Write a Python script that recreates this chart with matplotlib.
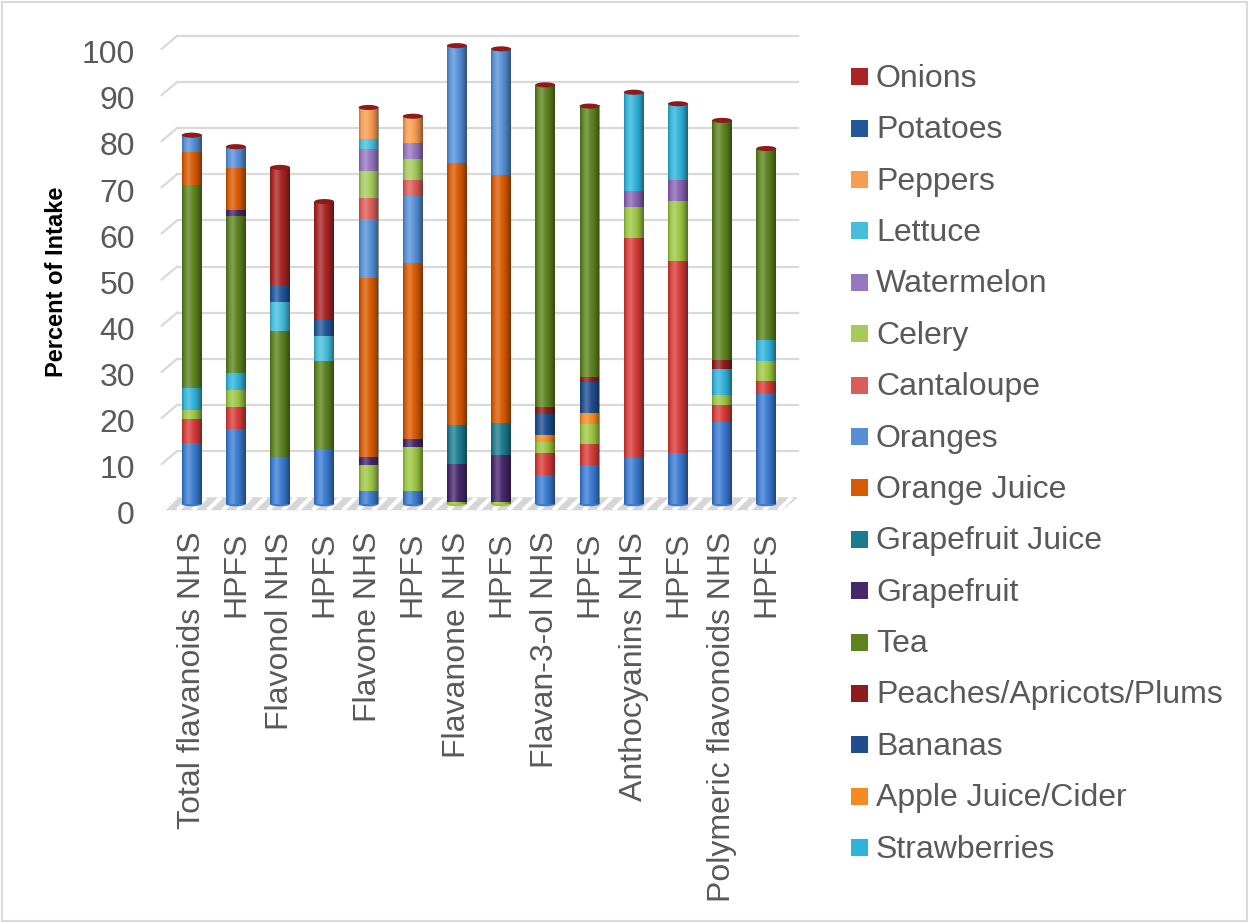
import numpy as np
import matplotlib
matplotlib.use("Agg")
import matplotlib.pyplot as plt
from matplotlib.patches import Rectangle, Ellipse, Polygon
from matplotlib.lines import Line2D

plt.rcParams['font.family'] = ['Liberation Sans', 'DejaVu Sans']

# ---------------- data ----------------
categories = ["Total flavanoids NHS", "HPFS", "Flavonol NHS", "HPFS",
              "Flavone NHS", "HPFS", "Flavanone NHS", "HPFS",
              "Flavan-3-ol NHS", "HPFS", "Anthocyanins NHS", "HPFS",
              "Polymeric flavonoids NHS", "HPFS"]

# percent of intake contributed by each food (stacked bottom -> top)
apples          = [13.2, 16.4, 10.3, 11.9, 2.8, 2.8, 0.0, 0.0, 6.4, 8.6, 10.1, 11.0, 17.8, 23.8]
blueberries     = [5.2, 4.7, 0.0, 0.0, 0.0, 0.0, 0.0, 0.0, 4.6, 4.4, 47.6, 41.7, 3.8, 3.0]
red_wine        = [2.1, 3.7, 0.0, 0.0, 5.7, 9.5, 0.5, 0.5, 2.5, 4.3, 6.7, 13.1, 2.0, 4.2]
other_fruit     = [0.0, 0.0, 0.0, 0.0, 0.0, 0.0, 0.0, 0.0, 0.0, 0.0, 3.6, 4.5, 0.0, 0.0]
strawberries    = [4.7, 3.6, 0.0, 0.0, 0.0, 0.0, 0.0, 0.0, 0.0, 0.0, 21.3, 16.5, 5.7, 4.5]
apple_juice     = [0.0, 0.0, 0.0, 0.0, 0.0, 0.0, 0.0, 0.0, 1.5, 2.5, 0.0, 0.0, 0.0, 0.0]
bananas         = [0.0, 0.0, 0.0, 0.0, 0.0, 0.0, 0.0, 0.0, 4.6, 6.7, 0.0, 0.0, 0.0, 0.0]
peaches         = [0.0, 0.0, 0.0, 0.0, 0.0, 0.0, 0.0, 0.0, 1.5, 1.0, 0.0, 0.0, 2.0, 0.0]
tea             = [43.9, 34.0, 27.3, 19.2, 0.0, 0.0, 0.0, 0.0, 69.8, 58.8, 0.0, 0.0, 51.9, 41.6]
grapefruit      = [0.0, 1.4, 0.0, 0.0, 1.8, 1.9, 8.2, 10.1, 0.0, 0.0, 0.0, 0.0, 0.0, 0.0]
grapefruit_juice = [0.0, 0.0, 0.0, 0.0, 0.0, 0.0, 8.4, 7.0, 0.0, 0.0, 0.0, 0.0, 0.0, 0.0]
orange_juice    = [7.3, 9.0, 0.0, 0.0, 38.7, 38.1, 56.8, 53.8, 0.0, 0.0, 0.0, 0.0, 0.0, 0.0]
oranges         = [3.6, 4.7, 0.0, 0.0, 12.9, 14.6, 25.5, 27.3, 0.0, 0.0, 0.0, 0.0, 0.0, 0.0]
cantaloupe      = [0.0, 0.0, 0.0, 0.0, 4.4, 3.4, 0.0, 0.0, 0.0, 0.0, 0.0, 0.0, 0.0, 0.0]
celery          = [0.0, 0.0, 0.0, 0.0, 6.0, 4.5, 0.0, 0.0, 0.0, 0.0, 0.0, 0.0, 0.0, 0.0]
watermelon      = [0.0, 0.0, 0.0, 0.0, 4.7, 3.4, 0.0, 0.0, 0.0, 0.0, 0.0, 0.0, 0.0, 0.0]
lettuce         = [0.0, 0.0, 6.3, 5.4, 2.1, 0.0, 0.0, 0.0, 0.0, 0.0, 0.0, 0.0, 0.0, 0.0]
peppers         = [0.0, 0.0, 0.0, 0.0, 6.9, 5.9, 0.0, 0.0, 0.0, 0.0, 0.0, 0.0, 0.0, 0.0]
potatoes        = [0.0, 0.0, 3.6, 3.4, 0.0, 0.0, 0.0, 0.0, 0.0, 0.0, 0.0, 0.0, 0.0, 0.0]
onions          = [0.0, 0.0, 25.5, 25.7, 0.0, 0.0, 0.0, 0.0, 0.0, 0.0, 0.0, 0.0, 0.0, 0.0]

# (name, values, colour, listed in legend)
series = [
    ("Apples", apples, "#3A7BD0", False),
    ("Blueberries", blueberries, "#D63C38", False),
    ("Red Wine", red_wine, "#9CC644", False),
    ("Other Fruit", other_fruit, "#8A63B3", False),
    ("Strawberries", strawberries, "#30B3D9", True),
    ("Apple Juice/Cider", apple_juice, "#F58A22", True),
    ("Bananas", bananas, "#1F4E8E", True),
    ("Peaches/Apricots/Plums", peaches, "#8F1C1C", True),
    ("Tea", tea, "#5C8320", True),
    ("Grapefruit", grapefruit, "#46286C", True),
    ("Grapefruit Juice", grapefruit_juice, "#1C7C8F", True),
    ("Orange Juice", orange_juice, "#D85A02", True),
    ("Oranges", oranges, "#568FD6", True),
    ("Cantaloupe", cantaloupe, "#DA5D59", True),
    ("Celery", celery, "#A6CA5C", True),
    ("Watermelon", watermelon, "#9576C0", True),
    ("Lettuce", lettuce, "#46BEDB", True),
    ("Peppers", peppers, "#F79C50", True),
    ("Potatoes", potatoes, "#22579C", True),
    ("Onions", onions, "#AA2424", True),
]

y_ticks = list(range(0, 101, 10))
y_label = "Percent of Intake"

# ---------------- layout ----------------
W, H = 1249, 923
fig = plt.figure(figsize=(W / 100, H / 100), dpi=100)
fig.patch.set_facecolor("white")


def fx(px):
    return px / W


def fy(py):
    return 1 - py / H


ax_l, ax_r, ax_t, ax_b = 150, 820, 20, 513
ax = fig.add_axes([fx(ax_l), fy(ax_b), (ax_r - ax_l) / W, (ax_b - ax_t) / H])
x0_px, dx_px = 191.7, 44.2
zero_px, unit_px = 507.0, 4.64
xlim = ((ax_l - x0_px) / dx_px, (ax_r - x0_px) / dx_px)
ylim = ((zero_px - ax_b) / unit_px, (zero_px - ax_t) / unit_px)

text_col = "#595959"
grid_col = "#D9D9D9"
back_off, front_off = 1.5, -1.3          # depth of the back wall / front edge
back_x = (-0.333, 13.72)
front_x = (-0.679, 13.36)
bar_w = 0.45

# floor of the 3-D box, grey with white diagonal stripes
floor = [(back_x[0], back_off), (back_x[1], back_off),
         (front_x[1], front_off), (front_x[0], front_off)]
floor_patch = Polygon(floor, closed=True, facecolor="#D6D6D6", edgecolor="none",
                      zorder=1, clip_on=False)
ax.add_patch(floor_patch)
stripe_step = 0.34
stripe_lean = 0.30
for xs in np.arange(front_x[0] - 1.0, back_x[1] + 0.5, stripe_step):
    ln = Line2D([xs, xs + stripe_lean], [front_off, back_off], color="white",
                lw=3.0, zorder=1.1, solid_capstyle="butt")
    ax.add_line(ln)
    ln.set_clip_path(floor_patch)

# back-wall gridlines with their short receding segment on the left
for g in y_ticks[1:]:
    ax.add_line(Line2D([back_x[0], back_x[1]], [g + back_off, g + back_off],
                       color=grid_col, lw=1.6, zorder=0.5, clip_on=False))
    ax.add_line(Line2D([front_x[0], back_x[0]], [g + front_off, g + back_off],
                       color=grid_col, lw=1.6, zorder=0.5, clip_on=False))

# stacked columns
x = np.arange(len(categories))
bottom = np.zeros(len(categories))
first_col = [None] * len(categories)
for name, vals, col, _ in series:
    v = np.array(vals, dtype=float)
    ax.bar(x, v, bottom=bottom, width=bar_w, color=col, linewidth=0, zorder=3)
    for i in range(len(x)):
        if v[i] > 0 and first_col[i] is None:
            first_col[i] = col
    bottom += v
totals = bottom

# cylinder shading across each column
t = np.linspace(0, 1, 80)
light = 0.22 * np.exp(-((t - 0.33) / 0.16) ** 2)
dark = 0.45 * np.clip((t - 0.55) / 0.45, 0, 1) ** 1.5 + 0.22 * np.clip((0.12 - t) / 0.12, 0, 1)
shade = np.zeros((1, t.size, 4))
use_light = light > dark
shade[0, :, :3] = np.where(use_light, 1.0, 0.0)[:, None]
shade[0, :, 3] = np.where(use_light, light, dark)
for i in range(len(x)):
    ax.imshow(shade, extent=(x[i] - bar_w / 2, x[i] + bar_w / 2, 0, totals[i]),
              aspect="auto", interpolation="bilinear", zorder=4)
    # rounded foot and top cap of the column
    ax.add_patch(Ellipse((x[i], 0), bar_w, 0.9, facecolor=first_col[i],
                         edgecolor="none", zorder=2.9))
    ax.add_patch(Ellipse((x[i], totals[i]), bar_w, 1.1, facecolor="#8E1A1A",
                         edgecolor="none", zorder=5, clip_on=False))

ax.set_xlim(*xlim)
ax.set_ylim(*ylim)
for s in ax.spines.values():
    s.set_visible(False)
ax.set_facecolor("none")

ax.set_yticks([g + front_off - 0.6 for g in y_ticks])
ax.set_yticklabels([str(g) for g in y_ticks])
ax.set_xticks(x)
ax.set_xticklabels(categories, rotation=90)
ax.tick_params(axis="y", length=0, pad=10.8, labelsize=23, labelcolor=text_col)
ax.tick_params(axis="x", length=0, pad=13.5, labelsize=23, labelcolor=text_col)

fig.text(fx(56.5), fy(282), y_label, rotation=90, ha="center", va="center",
         fontsize=17, fontweight="bold", color="black")

# legend, last series first
legend_items = [(n, c) for n, _, c, show in series if show][::-1]
for k, (name, col) in enumerate(legend_items):
    yc = 76.7 + 51.4 * k
    fig.add_artist(Rectangle((fx(851), fy(yc + 8.5)), 17 / W, 17 / H,
                             transform=fig.transFigure, facecolor=col,
                             edgecolor="none"))
    fig.text(fx(876), fy(yc + 10.0), name, ha="left", va="baseline",
             fontsize=23, color=text_col)

# outer frame
fig.add_artist(Rectangle((fx(2), fy(921)), 1245 / W, 919 / H,
                         transform=fig.transFigure, facecolor="none",
                         edgecolor=grid_col, linewidth=1.5))

fig.savefig("out.png", dpi=100, facecolor="white")
